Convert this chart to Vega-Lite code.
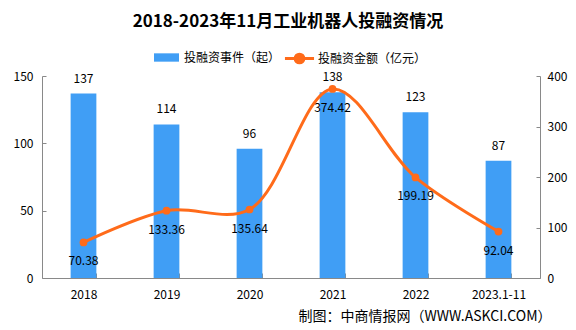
{
  "$schema": "https://vega.github.io/schema/vega-lite/v6.json",
  "width": 498,
  "height": 202,
  "autosize": "none",
  "padding": {"left": 42, "top": 76, "right": 36, "bottom": 52},
  "background": "white",
  "config": {
    "view": {"stroke": null},
    "font": "Noto Sans CJK SC"
  },
  "title": {
    "text": "2018-2023年11月工业机器人投融资情况",
    "font": "Noto Sans CJK SC",
    "fontSize": 17,
    "fontWeight": "bold",
    "color": "#000000",
    "anchor": "middle",
    "offset": 16,
    "dx": -3
  },
  "data": {
    "values": [
      {"year": "2018", "events": 137, "amount": 70.38},
      {"year": "2019", "events": 114, "amount": 133.36},
      {"year": "2020", "events": 96, "amount": 135.64},
      {"year": "2021", "events": 138, "amount": 374.42},
      {"year": "2022", "events": 123, "amount": 199.19},
      {"year": "2023.1-11", "events": 87, "amount": 92.04}
    ]
  },
  "encoding": {
    "x": {
      "field": "year",
      "type": "nominal",
      "sort": null,
      "scale": {"paddingInner": 0.69, "paddingOuter": 0.345},
      "axis": {
        "title": "制图：中商情报网（WWW.ASKCI.COM）",
        "titleFont": "Noto Sans CJK SC",
        "titleFontSize": 14,
        "titleFontWeight": "normal",
        "titleColor": "#000000",
        "titleAnchor": "end",
        "titleAlign": "right",
        "titleBaseline": "middle",
        "titleX": 509,
        "titleY": 38,
        "labelAngle": 0,
        "labelFont": "Noto Sans CJK SC",
        "labelFontSize": 12,
        "labelColor": "#000000",
        "labelPadding": 16,
        "tickBand": "extent",
        "tickSize": -5,
        "tickColor": "#898989",
        "domainColor": "#898989"
      }
    }
  },
  "layer": [
    {
      "encoding": {
        "y": {
          "field": "events",
          "type": "quantitative",
          "scale": {"domain": [0, 150], "nice": false},
          "axis": {
            "orient": "left",
            "title": null,
            "values": [0, 50, 100, 150],
            "grid": false,
            "labelFont": "Noto Sans CJK SC",
            "labelFontSize": 12,
            "labelColor": "#000000",
            "tickSize": -4,
            "labelPadding": 13,
            "tickColor": "#898989",
            "domainColor": "#898989"
          }
        }
      },
      "layer": [
        {
          "mark": {"type": "bar"},
          "encoding": {
            "fill": {
              "datum": "投融资事件（起）",
              "scale": {"range": ["#409EF5"]},
              "legend": {
                "orient": "none",
                "legendX": 116,
                "legendY": -27,
                "title": null,
                "padding": 0,
                "symbolType": "M-1.5,-0.5L1.5,-0.5L1.5,0.5L-1.5,0.5Z",
                "symbolSize": 278,
                "symbolStrokeWidth": 0,
                "labelOffset": 9,
                "labelFont": "Noto Sans CJK SC",
                "labelFontSize": 12,
                "labelColor": "#000000"
              }
            }
          }
        },
        {
          "mark": {"type": "text", "baseline": "bottom", "dy": -8, "fontSize": 12, "color": "#000000", "font": "Noto Sans CJK SC"},
          "encoding": {"text": {"field": "events", "type": "quantitative"}}
        }
      ]
    },
    {
      "encoding": {
        "y": {
          "field": "amount",
          "type": "quantitative",
          "scale": {"domain": [0, 400], "nice": false},
          "axis": {
            "orient": "right",
            "title": null,
            "values": [0, 100, 200, 300, 400],
            "grid": false,
            "labelFont": "Noto Sans CJK SC",
            "labelFontSize": 12,
            "labelColor": "#000000",
            "tickSize": -4,
            "labelPadding": 11,
            "tickColor": "#898989",
            "domainColor": "#898989"
          }
        }
      },
      "layer": [
        {
          "mark": {"type": "line", "interpolate": "catmull-rom", "strokeWidth": 3},
          "encoding": {
            "stroke": {
              "datum": "投融资金额（亿元）",
              "scale": {"range": ["#FF6B1A"]},
              "legend": {
                "orient": "none",
                "legendX": 246,
                "legendY": -29,
                "title": null,
                "padding": 0,
                "symbolType": "M-1.5,0L1.5,0M0.45,0A0.45,0.45,0,1,1,-0.45,0A0.45,0.45,0,1,1,0.45,0",
                "symbolSize": 376,
                "symbolStrokeWidth": 3,
                "symbolFillColor": "#FF6B1A",
                "labelOffset": 7,
                "labelFont": "Noto Sans CJK SC",
                "labelFontSize": 12,
                "labelColor": "#000000"
              }
            }
          }
        },
        {
          "mark": {"type": "point", "filled": true, "size": 60, "color": "#FF6B1A", "opacity": 1}
        },
        {
          "mark": {"type": "text", "baseline": "middle", "dy": 19, "fontSize": 12, "color": "#000000", "font": "Noto Sans CJK SC"},
          "encoding": {"text": {"field": "amount", "type": "quantitative", "format": ".2f"}}
        }
      ]
    }
  ],
  "resolve": {"scale": {"y": "independent"}}
}
